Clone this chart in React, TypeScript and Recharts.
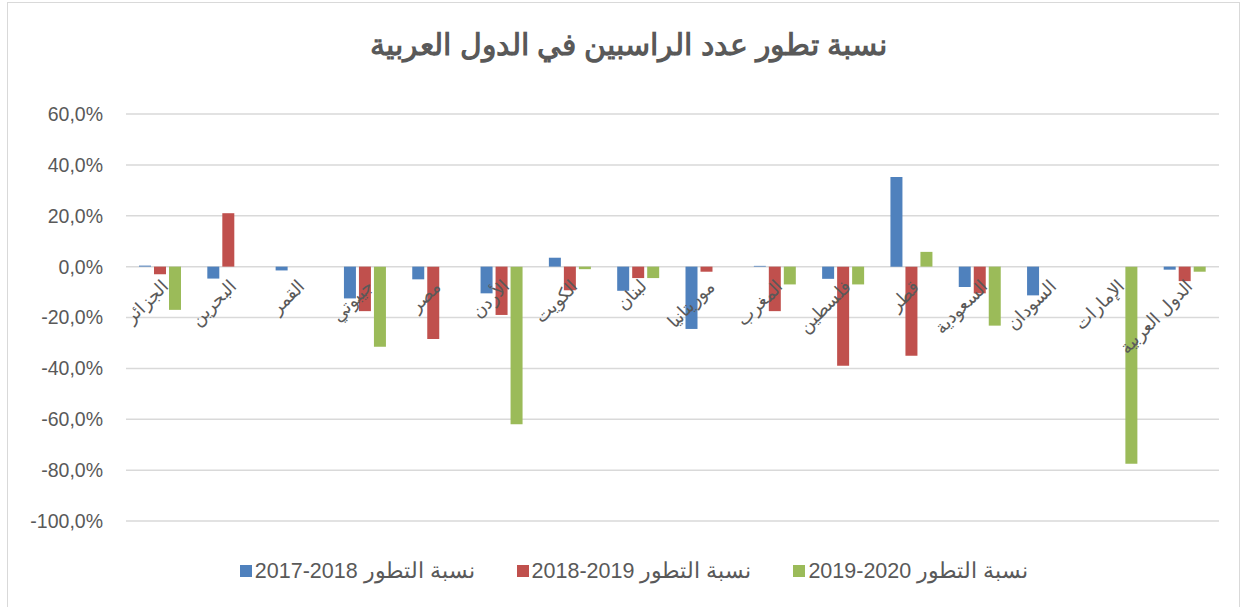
import { BarChart, Bar, XAxis, YAxis, CartesianGrid } from "recharts";

const countries = [
  "الجزائر",
  "البحرين",
  "القمر",
  "جيبوتي",
  "مصر",
  "الأردن",
  "الكويت",
  "لبنان",
  "موريتانيا",
  "المغرب",
  "فلسطين",
  "قطر",
  "السعودية",
  "السودان",
  "الإمارات",
  "الدول العربية",
];

// growth rates in percent
const growth2017_2018 = [0.4, -4.7, -1.5, -12.5, -5, -10.5, 3.5, -9.5, -24.5, 0.3, -4.8, 35.2, -8, -11.3, 0, -1.2];
const growth2018_2019 = [-3, 21, 0, -17.5, -28.5, -19, -9.3, -4.5, -2, -17.5, -39, -35, -10.5, 0, 0, -5.7];
const growth2019_2020 = [-17, 0, 0, -31.5, 0, -62, -1, -4.5, 0, -7, -7, 5.8, -23.2, 0, -77.5, -2];

const seriesNames = [
  "نسبة التطور \u20662017-2018\u2069",
  "نسبة التطور \u20662018-2019\u2069",
  "نسبة التطور \u20662019-2020\u2069",
];
const seriesColors = ["#4f81bd", "#c0504d", "#9bbb59"];

const yTicks = [-100, -80, -60, -40, -20, 0, 20, 40, 60];
const Y_MIN = -100;
const Y_MAX = 60;

const title = "نسبة تطور عدد الراسبين في الدول العربية";

const data = countries.map((name, i) => ({
  name,
  a: growth2017_2018[i],
  b: growth2018_2019[i],
  c: growth2019_2020[i],
}));

const WIDTH = 1246;
const HEIGHT = 607;
const X_AXIS_H = 86;
const margin = { top: 114, right: 27, bottom: 0, left: 0 };
const plotH = HEIGHT - margin.top - X_AXIS_H;
const zeroY = margin.top + (plotH * Y_MAX) / (Y_MAX - Y_MIN);
const textColor = "#595959";
const font = "'Liberation Sans', Arial, sans-serif";

function CountryTick(props: any) {
  const { x, payload } = props;
  const tx = x + 9;
  const ty = zeroY + 21;
  return (
    <text
      x={tx}
      y={ty}
      transform={`rotate(-45, ${tx}, ${ty})`}
      textAnchor="end"
      fill={textColor}
      fontSize={18}
      fontFamily={font}
    >
      {payload.value}
    </text>
  );
}

const fmt = (v: number) => `${v.toFixed(1).replace(".", ",")}%`;

export default function App() {
  return (
    <div style={{ position: "absolute", left: 0, top: 0, width: WIDTH, height: HEIGHT, overflow: "hidden", background: "#fff" }}>
      <div
        style={{
          position: "absolute",
          left: 7,
          top: 2,
          width: 1231,
          height: 640,
          border: "1.5px solid #d9d9d9",
        }}
      />
      <div
        style={{
          position: "absolute",
          top: 27,
          left: 6,
          width: WIDTH,
          textAlign: "center",
          fontFamily: font,
          fontWeight: "bold",
          fontSize: 30,
          color: textColor,
          direction: "rtl",
        }}
      >
        {title}
      </div>
      <div style={{ position: "absolute", left: 0, top: 0 }}>
        <BarChart
          width={WIDTH}
          height={HEIGHT}
          data={data}
          margin={margin}
          barSize={12}
          barGap={3}
        >
          <CartesianGrid vertical={false} stroke="#d9d9d9" strokeWidth={1.5} />
          <XAxis
            dataKey="name"
            axisLine={false}
            tickLine={false}
            interval={0}
            tick={<CountryTick />}
            height={X_AXIS_H}
          />
          <YAxis
            domain={[Y_MIN, Y_MAX]}
            ticks={yTicks}
            tickFormatter={fmt}
            axisLine={false}
            tickLine={false}
            tickSize={0}
            tickMargin={23}
            width={126}
            tick={{ fill: textColor, fontSize: 19.5, fontFamily: font }}
          />
          <Bar dataKey="a" name={seriesNames[0]} fill={seriesColors[0]} isAnimationActive={false} />
          <Bar dataKey="b" name={seriesNames[1]} fill={seriesColors[1]} isAnimationActive={false} />
          <Bar dataKey="c" name={seriesNames[2]} fill={seriesColors[2]} isAnimationActive={false} />
        </BarChart>
      </div>
      <div
        style={{
          position: "absolute",
          top: 558,
          left: 0,
          width: WIDTH,
          display: "flex",
          justifyContent: "center",
          gap: 42,
          fontFamily: font,
          fontSize: 21.5,
          color: textColor,
          paddingLeft: 22,
          boxSizing: "border-box",
        }}
      >
        {seriesNames.map((n, i) => (
          <div key={n} style={{ display: "flex", alignItems: "center" }}>
            <span style={{ display: "inline-block", width: 12, height: 12, background: seriesColors[i], marginRight: 3 }} />
            <span dir="rtl">{n}</span>
          </div>
        ))}
      </div>
    </div>
  );
}
